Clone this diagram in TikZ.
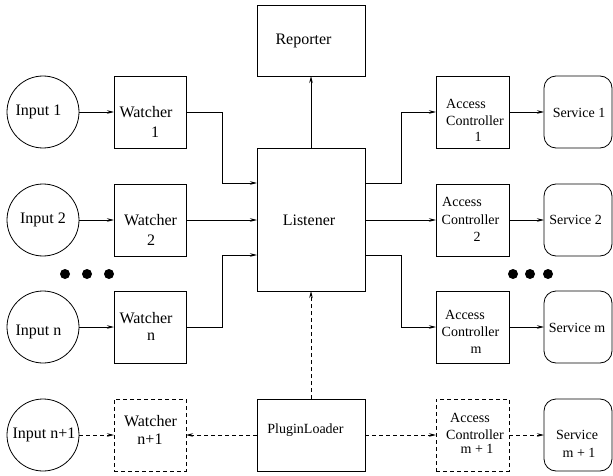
\documentclass[tikz,border=0pt]{standalone}
\usepackage{fontspec}
\setmainfont{Liberation Serif}
\usetikzlibrary{arrows.meta}
\begin{document}
\begin{tikzpicture}[x=1pt,y=-1pt,
  every node/.style={inner sep=0pt, outer sep=0pt},
  box/.style={draw, line width=0.8pt, minimum width=72pt, minimum height=72pt},
  acbox/.style={box, minimum width=73pt},
  bigbox/.style={draw, line width=0.8pt, minimum width=108pt},
  circ/.style={draw, circle, line width=0.8pt, minimum size=72pt},
  svc/.style={draw, rounded corners=12pt, line width=0.8pt, minimum width=68pt, minimum height=72pt},
  dashy/.style={dash pattern=on 4pt off 3pt},
  big/.style={font=\fontsize{16}{19}\selectfont},
  small/.style={font=\fontsize{14}{17}\selectfont},
  arr/.style={line width=0.8pt, -{Stealth[length=7pt,width=3.5pt]}},
  darr/.style={arr, dashy},
  dotm/.style={circle, fill, minimum size=10pt}
]
\useasboundingbox (0,0) rectangle (613,476);

% inputs
\node[circ] (i1) at (43,112) {};
\node[circ] (i2) at (43,220) {};
\node[circ] (in) at (43,327) {};
\node[circ] (in1) at (43,435) {};
\node[big] (ti1) at (38.5,112) {Input 1};
\node[big] (ti2) at (43,220) {Input 2};
\node[big] (tin) at (38.5,332) {Input n};
\node[big] (tin1) at (44,435) {Input n+1};

% watchers
\node[box] (w1) at (150,112) {};
\node[box] (w2) at (150,220) {};
\node[box] (wn) at (150,327) {};
\node[box,dashy] (wn1) at (150,435) {};
\node[big] (tw1a) at (146,112) {Watcher};
\node[big] (tw1b) at (155,132) {1};
\node[big] (tw2a) at (150.5,220) {Watcher};
\node[big] (tw2b) at (151,240) {2};
\node[big] (twna) at (146,318) {Watcher};
\node[big] (twnb) at (151,337) {n};
\node[big] (twn1a) at (150.5,421) {Watcher};
\node[big] (twn1b) at (150,439) {n+1};

% dots
\node[dotm] (dl1) at (65,274) {};
\node[dotm] (dl2) at (87,274) {};
\node[dotm] (dl3) at (109,274) {};
\node[dotm] (dr1) at (513,274) {};
\node[dotm] (dr2) at (530,274) {};
\node[dotm] (dr3) at (548,274) {};

% center column
\node[bigbox, minimum height=71pt] (R) at (311,40.5) {};
\node[bigbox, minimum height=143pt] (L) at (311,219.5) {};
\node[bigbox, minimum height=72pt] (P) at (311,435) {};
\node[big] (tR) at (303.5,41) {Reporter};
\node[big] (tL) at (309,220) {Listener};
\node[small] (tP) at (305.5,430) {PluginLoader};

% access controllers
\node[acbox] (ac1) at (472.5,112) {};
\node[acbox] (ac2) at (472.5,220) {};
\node[acbox] (acm) at (472.5,327) {};
\node[acbox,dashy] (acm1) at (472.5,435) {};
\node[small] (tac1a) at (466,104) {Access};
\node[small] (tac1b) at (475,121) {Controller};
\node[small] (tac1c) at (478,137) {1};
\node[small] (tac2a) at (462,202) {Access};
\node[small] (tac2b) at (470.5,220) {Controller};
\node[small] (tac2c) at (477,237) {2};
\node[small] (tacma) at (465,315) {Access};
\node[small] (tacmb) at (470.5,332) {Controller};
\node[small] (tacmc) at (476,350) {m};
\node[small] (tacm1a) at (470,418) {Access};
\node[small] (tacm1b) at (475,435) {Controller};
\node[small] (tacm1c) at (477,449) {m + 1};

% services
\node[svc] (s1) at (578,112) {};
\node[svc] (s2) at (578,220) {};
\node[svc] (sm) at (578,327) {};
\node[svc] (sm1) at (578,435) {};
\node[small] (ts1) at (579,113) {Service 1};
\node[small] (ts2) at (575.5,220) {Service 2};
\node[small] (tsm) at (577,328) {Service m};
\node[small] (tsm1a) at (577,435) {Service};
\node[small] (tsm1b) at (579,453) {m + 1};

% connectors
\draw[arr] (i1) -- (w1);
\draw[arr] (i2) -- (w2);
\draw[arr] (in) -- (wn);
\draw[darr] (in1) -- (wn1);
\draw[arr] (w1.east) -| (222,183) -- (L.west |- 0,183);
\draw[arr] (w2.east) -- (L.west |- w2.east);
\draw[arr] (wn.east) -| (222,255) -- (L.west |- 0,255);
\draw[arr] (L) -- (R);
\draw[arr] (L.east |- 0,183) -| (401,112) -- (ac1.west);
\draw[arr] (L.east |- ac2.west) -- (ac2.west);
\draw[arr] (L.east |- 0,255) -| (401,327) -- (acm.west);
\draw[arr] (ac1) -- (s1);
\draw[arr] (ac2) -- (s2);
\draw[arr] (acm) -- (sm);
\draw[darr] (acm1) -- (sm1);
\draw[darr] (P) -- (L);
\draw[darr] (P) -- (wn1);
\draw[darr] (P) -- (acm1);
\end{tikzpicture}
\end{document}
